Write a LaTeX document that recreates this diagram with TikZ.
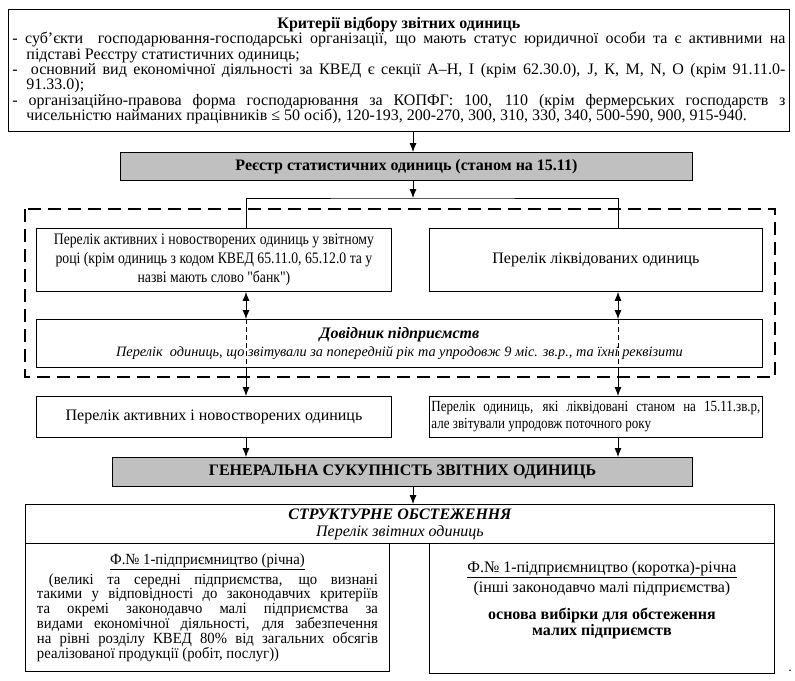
\documentclass[tikz,border=0pt]{standalone}
\usepackage{fontspec}
\setmainfont{Liberation Serif}
\newfontfamily\narrowfont[FakeStretch=0.86]{Liberation Serif}
\newfontfamily\tightfont[FakeStretch=0.84]{Liberation Serif}
\newfontfamily\semifont[FakeStretch=0.95]{Liberation Serif}
\usetikzlibrary{arrows.meta}

\definecolor{regfill}{RGB}{192,192,192}

\tikzset{
  box/.style={draw, line width=0.9pt, inner sep=4pt, align=center},
  greybox/.style={box, fill=regfill},
  arr/.style={-{Latex[length=9pt,width=7pt]}, line width=0.8pt},
  dblarr/.style={{Latex[length=9pt,width=7pt]}-{Latex[length=9pt,width=7pt]}, line width=0.8pt},
}

\begin{document}
\begin{tikzpicture}[x=1pt, y=-1pt]
\useasboundingbox (0,0) rectangle (795,680);

\coordinate (spine) at (413,0);
\coordinate (colL) at (246,0);
\coordinate (colR) at (618,0);
\coordinate (split) at (413,198);

% criteria
\node[box, anchor=north west, minimum width=781, minimum height=122, text width=773, align=justify,
  font=\fontsize{16}{15.3}\selectfont] (crit) at (8,9)
  {{\centering\bfseries Критерії відбору звітних одиниць\par}
   \emergencystretch=2em \hangindent=14pt \hangafter=1
   - суб’єкти\ \ господарювання-господарські організації, що мають статус юридичної особи та є активними на\linebreak
   підставі Реєстру статистичних одиниць;\par
   \hangindent=14pt \hangafter=1
   -\ \ основний вид економічної діяльності за КВЕД є секції А–Н, І (крім 62.30.0), J, К, М, N, О (крім 91.11.0-\linebreak
   91.33.0);\par
   \hangindent=14pt \hangafter=1
   - організаційно-правова форма господарювання за КОПФГ: 100, 110 (крім фермерських господарств з\linebreak
   чисельністю найманих працівників ≤ 50 осіб), 120-193, 200-270, 300, 310, 330, 340, 500-590, 900, 915-940.\par};

\node[greybox, anchor=north west, minimum width=572, minimum height=28,
  font=\fontsize{16}{18}\selectfont\bfseries] (reg) at (120,152)
  {Реєстр статистичних одиниць (станом на 15.11)};

% dashed frame
\draw[line width=1.4pt, dash pattern=on 13pt off 7pt] (25,209) rectangle (775,377);

\node[box, anchor=north west, minimum width=355, minimum height=63,
  font=\fontsize{16}{19}\selectfont\narrowfont] (act) at (36,228)
  {Перелік активних і новостворених одиниць у звітному\\
   році (крім одиниць з кодом КВЕД 65.11.0, 65.12.0 та у\\
   назві мають слово "банк")};
\node[box, anchor=north west, minimum width=333, minimum height=63,
  font=\fontsize{16}{19}\selectfont] (liq) at (429,228)
  {Перелік ліквідованих одиниць};

\node[box, anchor=north west, minimum width=726, minimum height=48,
  font=\fontsize{14.3}{18}\selectfont\itshape] (dov) at (36,319)
  {{\bfseries\fontsize{16}{18}\selectfont Довідник підприємств}\\
   Перелік\ \ одиниць, що звітували за попередній рік та упродовж 9 міс. зв.р., та їхні реквізити};

\node[box, anchor=north west, minimum width=355, minimum height=41,
  font=\fontsize{16}{18}\selectfont] (actall) at (36,396)
  {Перелік активних і новостворених одиниць};
\node[box, anchor=north west, minimum width=333, minimum height=41, text width=329, inner sep=2pt,
  align=justify, font=\fontsize{15.5}{17}\selectfont\tightfont] (liqrep) at (429,396)
  {Перелік одиниць, які ліквідовані станом на 15.11.зв.р,\linebreak
   але звітували упродовж поточного року};

\node[greybox, anchor=north west, minimum width=580, minimum height=29,
  font=\fontsize{16}{18}\selectfont\bfseries] (gen) at (112,457)
  {ГЕНЕРАЛЬНА СУКУПНІСТЬ ЗВІТНИХ ОДИНИЦЬ};

% structural survey
\node[box, anchor=north west, minimum width=749, minimum height=39, inner sep=2pt,
  font=\fontsize{16}{17}\selectfont\itshape] (struct) at (25,504)
  {{\bfseries СТРУКТУРНЕ ОБСТЕЖЕННЯ}\\
   Перелік звітних одиниць};
\node[box, anchor=north west, minimum width=364, minimum height=128, text width=341, align=justify,
  font=\fontsize{15.5}{14.8}\selectfont\semifont] (annual) at (25,543)
  {{\centering\underline{Ф.№ 1-підприємництво (річна)}\par}
   \vspace{3pt}\emergencystretch=2em
   \hspace*{12pt}(великі та середні підприємства, що визнані\linebreak
   такими у відповідності до законодавчих критеріїв\linebreak
   та окремі законодавчо малі підприємства за\linebreak
   видами економічної діяльності, для забезпечення\linebreak
   на рівні розділу КВЕД 80\% від загальних обсягів\linebreak
   реалізованої продукції (робіт, послуг))\par};
\node[box, anchor=north west, minimum width=345, minimum height=130] (short) at (429,543) {};
\node[anchor=north, inner sep=0pt, align=center, font=\fontsize{16}{20}\selectfont] (shorttext)
  at ([yshift=-18pt]short.north)
  {\underline{Ф.№ 1-підприємництво (коротка)-річна}\\
   (інші законодавчо малі підприємства)\\[7pt]
   \bfseries основа вибірки для обстеження\\[-4pt]
   \bfseries малих підприємств};
\node[font=\fontsize{14}{16}\selectfont] (dot) at (790,671) {.};

% connectors
\draw[arr] (crit.south -| spine) -- (reg.north -| spine);
\draw[arr] (reg.south -| spine) -- (split);
\draw[line width=0.8pt] (act.north -| colL) |- (split) -| (liq.north -| colR);
\foreach \c/\up/\down in {colL/act/actall, colR/liq/liqrep}{
  \draw[dblarr] (\up.south -| \c) -- (dov.north -| \c);
  \draw[line width=0.6pt, dash pattern=on 5pt off 3pt] (dov.north -| \c) -- (dov.south -| \c);
  \draw[arr] (dov.south -| \c) -- (\down.north -| \c);
  \draw[arr] (\down.south -| \c) -- (gen.north -| \c);
}
\draw[arr] (gen.south -| spine) -- (struct.north -| spine);
\end{tikzpicture}
\end{document}
